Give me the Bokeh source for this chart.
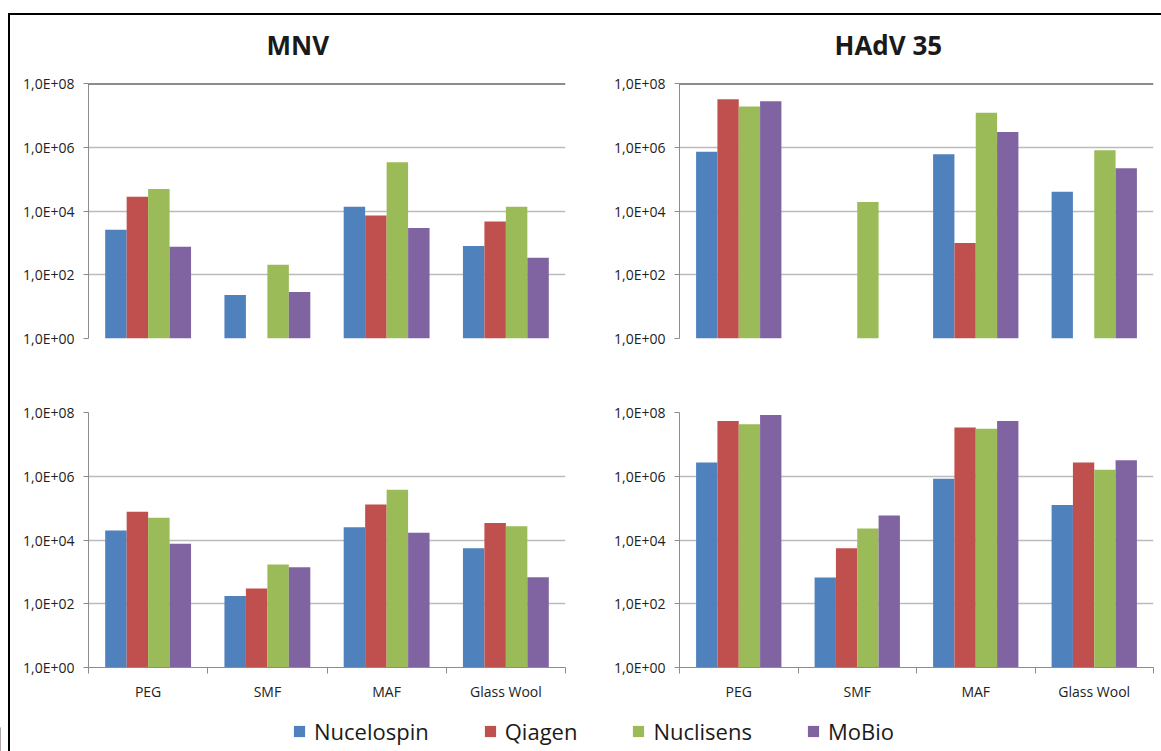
from bokeh.plotting import figure
from bokeh.layouts import column, row
from bokeh.models import (Range1d, FixedTicker, CustomJSTickFormatter, Span, Title,
                          Legend, LegendItem, ColumnDataSource)
from bokeh.embed import file_html
from bokeh.resources import INLINE

NaN = float("nan")

categories = ["PEG", "SMF", "MAF", "Glass Wool"]
methods = ["Nucelospin", "Qiagen", "Nuclisens", "MoBio"]
colors = ["#4F81BD", "#C0504D", "#9BBB59", "#8064A2"]
y_ticks = [1, 1e2, 1e4, 1e6, 1e8]
titles = ["MNV", "HAdV 35"]

# MNV - upper panel
mnv_up_nucelospin = [2.6e3, 23, 1.35e4, 800]
mnv_up_qiagen = [2.8e4, NaN, 7.2e3, 4.7e3]
mnv_up_nuclisens = [4.9e4, 205, 3.4e5, 1.35e4]
mnv_up_mobio = [750, 29, 2.95e3, 340]

# HAdV 35 - upper panel
hadv_up_nucelospin = [7.2e5, NaN, 6.0e5, 4.0e4]
hadv_up_qiagen = [3.2e7, NaN, 1.0e3, NaN]
hadv_up_nuclisens = [1.9e7, 1.9e4, 1.2e7, 8.0e5]
hadv_up_mobio = [2.75e7, NaN, 3.0e6, 2.2e5]

# MNV - lower panel
mnv_lo_nucelospin = [2.0e4, 176, 2.5e4, 5.5e3]
mnv_lo_qiagen = [7.7e4, 300, 1.3e5, 3.4e4]
mnv_lo_nuclisens = [5.0e4, 1.7e3, 3.8e5, 2.7e4]
mnv_lo_mobio = [7.6e3, 1.4e3, 1.7e4, 680]

# HAdV 35 - lower panel
hadv_lo_nucelospin = [2.7e6, 670, 8.3e5, 1.25e5]
hadv_lo_qiagen = [5.4e7, 5.5e3, 3.4e7, 2.7e6]
hadv_lo_nuclisens = [4.3e7, 2.3e4, 3.1e7, 1.6e6]
hadv_lo_mobio = [8.4e7, 5.9e4, 5.4e7, 3.2e6]

FONT = "Open Sans"
GRID = "#BBBBBB"
AXIS = "#8C8C8C"
offsets = [-0.27, -0.09, 0.09, 0.27]


def panel(series, width, height, left, right, top, bottom, upper, title=None, title_offset=0):
    p = figure(width=width, height=height, y_axis_type="log",
               x_range=Range1d(0, len(categories)), y_range=Range1d(1, 1e8),
               output_backend="svg", toolbar_location=None,
               min_border_left=left, min_border_right=right,
               min_border_top=top, min_border_bottom=bottom,
               x_axis_location=None if upper else "below")
    p.outline_line_color = None
    p.background_fill_color = None
    p.border_fill_color = None
    for j, vals in enumerate(series):
        xs = [i + 0.5 + offsets[j] for i in range(len(categories))]
        src = ColumnDataSource(dict(x=xs, top=vals, bottom=[1] * len(vals)))
        p.vbar(x="x", top="top", bottom="bottom", width=0.18, source=src,
               fill_color=colors[j], line_color=None)
    yax = p.yaxis[0]
    yax.ticker = FixedTicker(ticks=y_ticks, minor_ticks=[])
    yax.formatter = CustomJSTickFormatter(code="""
        const e = Math.round(Math.log10(tick));
        return '1,0E+' + (e < 10 ? '0' : '') + e;
    """)
    yax.axis_line_color = AXIS
    yax.major_tick_line_color = AXIS
    yax.major_tick_out = 5
    yax.major_tick_in = 0
    yax.minor_tick_line_color = None
    yax.major_label_standoff = 9
    yax.major_label_text_font = FONT
    yax.major_label_text_font_size = "14px"
    yax.major_label_text_color = "#222222"
    p.ygrid.grid_line_color = GRID
    p.ygrid.grid_line_width = 1.5
    p.xgrid.visible = False
    if upper:
        p.add_layout(Span(location=1e8, dimension="width", line_color="#1a1a1a", line_width=2))
    else:
        xax = p.xaxis[0]
        xax.ticker = FixedTicker(ticks=[i + 0.5 for i in range(len(categories))],
                                 minor_ticks=list(range(len(categories) + 1)))
        xax.major_label_overrides = {i + 0.5: c for i, c in enumerate(categories)}
        xax.axis_line_color = AXIS
        xax.major_tick_line_color = None
        xax.minor_tick_line_color = AXIS
        xax.minor_tick_out = 6
        xax.minor_tick_in = 0
        xax.major_label_standoff = 8
        xax.major_label_text_font = FONT
        xax.major_label_text_font_size = "14px"
        xax.major_label_text_color = "#222222"
    if title is not None:
        p.title = Title(text=title, align="left", offset=title_offset, standoff=42,
                        text_font=FONT, text_font_size="26px", text_font_style="bold",
                        text_color="#1a1a1a")
    return p


pA = panel([mnv_up_nucelospin, mnv_up_qiagen, mnv_up_nuclisens, mnv_up_mobio],
           width=595, height=358, left=88, right=30, top=83, bottom=20, upper=True,
           title=titles[0], title_offset=178)
pB = panel([hadv_up_nucelospin, hadv_up_qiagen, hadv_up_nuclisens, hadv_up_mobio],
           width=566, height=358, left=84, right=8, top=83, bottom=20, upper=True,
           title=titles[1], title_offset=155)
pC = panel([mnv_lo_nucelospin, mnv_lo_qiagen, mnv_lo_nuclisens, mnv_lo_mobio],
           width=595, height=345, left=88, right=30, top=54, bottom=28, upper=False)
pD = panel([hadv_lo_nucelospin, hadv_lo_qiagen, hadv_lo_nuclisens, hadv_lo_mobio],
           width=566, height=345, left=84, right=8, top=54, bottom=28, upper=False)

lf = figure(width=1161, height=48, output_backend="svg", toolbar_location=None,
            min_border=0, x_range=Range1d(0, 1), y_range=Range1d(0, 1),
            x_axis_location=None, y_axis_location=None)
lf.outline_line_color = None
lf.background_fill_color = None
lf.border_fill_color = None
lf.grid.visible = False
items = []
for m, c in zip(methods, colors):
    r = lf.vbar(x=[-10], top=[0.5], width=0.1, fill_color=c, line_color=None)
    items.append(LegendItem(label=m, renderers=[r]))
legend = Legend(items=items, orientation="horizontal", location=(292, 5),
                spacing=54, glyph_width=14, glyph_height=14, label_standoff=8,
                label_text_font=FONT, label_text_font_size="22px", label_text_color="#1a1a1a",
                padding=0, margin=0, border_line_color=None, background_fill_alpha=0)
lf.add_layout(legend)

layout = column(row(pA, pB), row(pC, pD), lf,
                styles={"background": "linear-gradient(#000,#000) 8px 13px / 100% 2px no-repeat, "
                                      "linear-gradient(#000,#000) 8px 13px / 2px 100% no-repeat, white"})

open("out.html", "w").write(file_html(layout, INLINE))
